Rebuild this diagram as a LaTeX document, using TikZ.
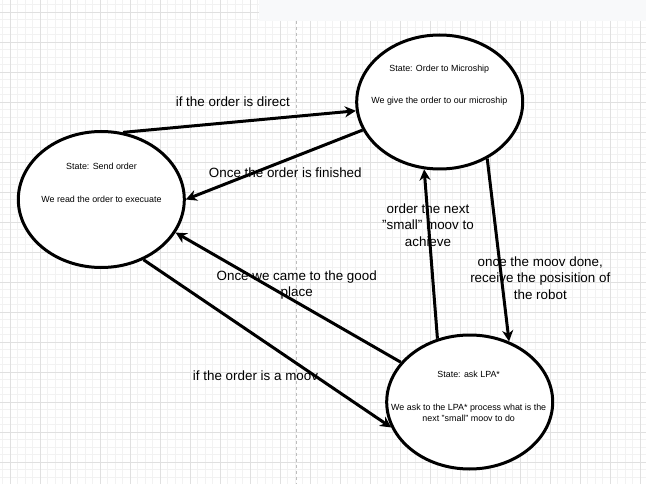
\documentclass[tikz,border=0pt]{standalone}
\usepackage{fontspec}
\setmainfont{Liberation Sans}
\usetikzlibrary{shapes.geometric,arrows.meta}
\definecolor{gridminor}{HTML}{F2F2F2}
\definecolor{gridmajor}{HTML}{E0E0E0}
\definecolor{topgray}{HTML}{F8F9FA}
\definecolor{dashcol}{HTML}{BDBDBD}
\begin{document}
\begin{tikzpicture}[x=1pt,y=-1pt,
  state/.style={ellipse,draw=black,line width=3pt,fill=white,inner sep=0pt,minimum width=166pt,minimum height=134pt},
  intext/.style={font=\fontsize{8.9}{11}\selectfont,align=center,inner sep=0pt,text=black},
  lab/.style={font=\fontsize{13.4}{16.3}\selectfont,align=center,inner sep=0pt,text=black},
  conn/.style={line width=3pt,-{Stealth[length=11pt,width=11pt,inset=3.5pt]}}]
\useasboundingbox (0,0) rectangle (646,484);
\fill[white] (0,0) rectangle (646,484);
% grid
\foreach \i in {0,...,86} \draw[line width=1pt,gridminor] (2.5+7.5*\i,0) -- (2.5+7.5*\i,484);
\foreach \i in {0,...,64} \draw[line width=1pt,gridminor] (0,4.8+7.5*\i) -- (646,4.8+7.5*\i);
\foreach \i in {0,...,21} \draw[line width=1pt,gridmajor] (10+30*\i,0) -- (10+30*\i,484);
\foreach \i in {0,...,15} \draw[line width=1pt,gridmajor] (0,12.3+30*\i) -- (646,12.3+30*\i);
\fill[topgray] (259,0) rectangle (646,20.7);
\draw[dashcol,line width=1pt,dash pattern=on 3pt off 3pt] (296.7,20.7) -- (296.7,484);
% states
\node[state,minimum height=136pt] (s1) at (101.3,199.5) {};
\node[state] (s2) at (439.7,102) {};
\node[state] (s3) at (469.7,402) {};
\node[intext] (t1a) at (101.5,166.7) {State: Send order};
\node[intext] (t1b) at (101.5,199) {We read the order to execuate};
\node[intext] (t2a) at (439.3,69) {State: Order to Microship};
\node[intext] (t2b) at (439.3,100.7) {We give the order to our microship};
\node[intext] (t3a) at (468.7,374) {State: ask LPA*};
\node[intext] (t3b) at (468.7,412.8) {We ask to the LPA* process what is the\\next "small" moov to do};
% connectors
\draw[conn] (s1.72) -- (s2.186);
\node[lab] (l1) at (232.8,101.7) {if the order is direct};
\draw[conn] (s2.200) -- (s1.0);
\node[lab] (l2) at (285.3,172.3) {Once the order is finished};
\draw[conn] (s3.117) -- (s2.257);
\node[lab] (l3) at (428,225) {order the next\\"small" moov to\\achieve};
\draw[conn] (s2.310) -- (s3.57);
\node[lab] (l4) at (540.3,278) {once the moov done,\\receive the posisition of\\the robot};
\draw[conn] (s3.150) -- (s1.336);
\node[lab] (l5) at (296.7,285) {Once we came to the good\\place};
\draw[conn] (s1.305) -- (s3.198);
\node[lab] (l6) at (255.5,375.7) {if the order is a moov};
\end{tikzpicture}
\end{document}
